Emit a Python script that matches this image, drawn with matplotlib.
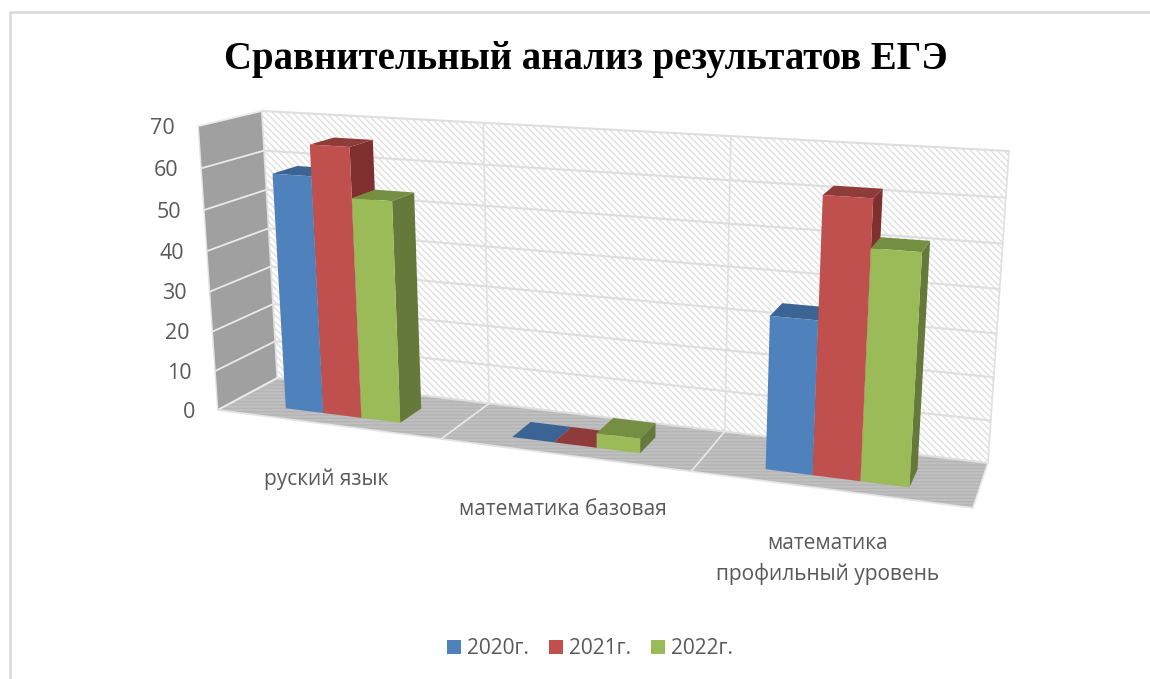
import numpy as np
import matplotlib
matplotlib.use("Agg")
import matplotlib.pyplot as plt
from matplotlib.patches import Polygon, Patch

categories = ["руский язык", "математика базовая", "математика\nпрофильный уровень"]
years = ["2020г.", "2021г.", "2022г."]
values_2020 = [58.5, 0, 35]
values_2021 = [66, 0, 62]
values_2022 = [54, 3.5, 51.5]
ticks = [0, 10, 20, 30, 40, 50, 60, 70]

front_colors = ["#4F81BD", "#C0504D", "#9BBB59"]
top_colors = ["#3B6494", "#8E3B39", "#748E42"]
side_colors = ["#38597F", "#7F302E", "#65793A"]
TEXT = "#595959"

Z_MAX = 70
BAR_START = 0.248
BAR_WIDTH = 0.173
DEPTH_FRONT = 0.25
DEPTH_BACK = 0.66

# where the corners of the box land on the picture: (cat, depth, value) -> pixel
box_world = [(0, 0, 0), (0, 1, 0), (3, 1, 0), (3, 0, 0), (0, 0, 70), (0, 1, 70), (3, 1, 70)]
box_pixel = [(218, 410), (277, 378), (988, 463), (973, 508), (198, 126), (262, 111), (1009, 151)]


def fit_projection(world, pixel):
    rows = []
    rhs = []
    for (x, y, z), (u, v) in zip(world, pixel):
        z = z / Z_MAX
        rows.append([x, y, z, 1, 0, 0, 0, 0, -u * x, -u * y, -u * z])
        rhs.append(u)
        rows.append([0, 0, 0, 0, x, y, z, 1, -v * x, -v * y, -v * z])
        rhs.append(v)
    p = np.linalg.lstsq(np.array(rows, float), np.array(rhs, float), rcond=None)[0]
    return np.append(p, 1).reshape(3, 4)


P = fit_projection(box_world, box_pixel)


def project(x, y, z):
    a = P @ np.array([x, y, z / Z_MAX, 1.0])
    return a[0] / a[2], a[1] / a[2]


def face(ax, corners, **kw):
    kw.setdefault("linewidth", 0)
    ax.add_patch(Polygon([project(*c) for c in corners], closed=True, **kw))


def line(ax, a, b, color, lw):
    pa, pb = project(*a), project(*b)
    ax.plot([pa[0], pb[0]], [pa[1], pb[1]], color=color, lw=lw, solid_capstyle="round", zorder=2)


def draw_walls(ax):
    plt.rcParams["hatch.linewidth"] = 1.0
    face(ax, [(0, 1, 0), (3, 1, 0), (3, 1, 70), (0, 1, 70)], facecolor="white",
         edgecolor="#E0E0E0", hatch="\\\\\\\\\\")
    face(ax, [(0, 0, 0), (0, 1, 0), (0, 1, 70), (0, 0, 70)], facecolor="#A0A0A0",
         edgecolor="#A0A0A0")
    face(ax, [(0, 0, 0), (3, 0, 0), (3, 1, 0), (0, 1, 0)], facecolor="#C0C0C0",
         edgecolor="#B4B4B4", hatch="-----")

    for t in ticks:
        line(ax, (0, 1, t), (3, 1, t), "#DEDEDE", 1.5)
        line(ax, (0, 0, t), (0, 1, t), "#EAEAEA", 1.3)
    for x in [0, 1, 2, 3]:
        line(ax, (x, 1, 0), (x, 1, 70), "#E0E0E0", 1.2)
        line(ax, (x, 0, 0), (x, 1, 0), "#EAEAEA", 1.2)
    line(ax, (0, 0, 0), (0, 0, 70), "#E4E4E4", 1.0)
    line(ax, (0, 0, 0), (3, 0, 0), "#E4E4E4", 1.2)


def draw_bar(ax, cat, idx, value):
    x0 = cat + BAR_START + idx * BAR_WIDTH
    x1 = x0 + BAR_WIDTH
    y0, y1 = DEPTH_FRONT, DEPTH_BACK
    face(ax, [(x1, y0, 0), (x1, y1, 0), (x1, y1, value), (x1, y0, value)],
         facecolor=side_colors[idx], zorder=3)
    face(ax, [(x0, y0, value), (x1, y0, value), (x1, y1, value), (x0, y1, value)],
         facecolor=top_colors[idx], zorder=3)
    face(ax, [(x0, y0, 0), (x1, y0, 0), (x1, y0, value), (x0, y0, value)],
         facecolor=front_colors[idx], zorder=3)


fig = plt.figure(figsize=(11.5, 6.79), dpi=100)
ax = fig.add_axes([0, 0, 1, 1])
ax.set_xlim(0, 1150)
ax.set_ylim(679, 0)
ax.axis("off")

# chart frame, only top and left show in the crop
ax.plot([1150, 10, 10], [12, 12, 679], color="#D9D9D9", lw=1.8)

draw_walls(ax)

series = [values_2020, values_2021, values_2022]
for cat in range(len(categories)):
    for idx, vals in enumerate(series):
        draw_bar(ax, cat, idx, vals[cat])

for t in ticks:
    px, py = project(0, 0, t)
    ax.text(px - 23, py + 2, str(t), ha="right", va="center", color=TEXT, fontsize=15.5, family="Open Sans")

for cat, name in enumerate(categories):
    px, py = project(cat + 0.5, 0, 0)
    ax.text(px, py + 44, name, ha="center", va="top", color=TEXT, fontsize=15,
            family="Open Sans", linespacing=1.55)

ax.text(586, 60, "Сравнительный анализ результатов ЕГЭ", ha="center", va="center",
        fontsize=27.9, fontweight="bold", family="Liberation Serif", color="black")

handles = [Patch(facecolor=c, label=y) for c, y in zip(front_colors, years)]
ax.legend(handles=handles, loc="center", bbox_to_anchor=(590, 649), bbox_transform=ax.transData,
          ncol=3, frameon=False, handlelength=0.67, handleheight=0.67, handletextpad=0.3,
          columnspacing=0.95, labelcolor=TEXT, prop={"family": "Open Sans", "size": 15})

fig.savefig("out.png", dpi=100)
